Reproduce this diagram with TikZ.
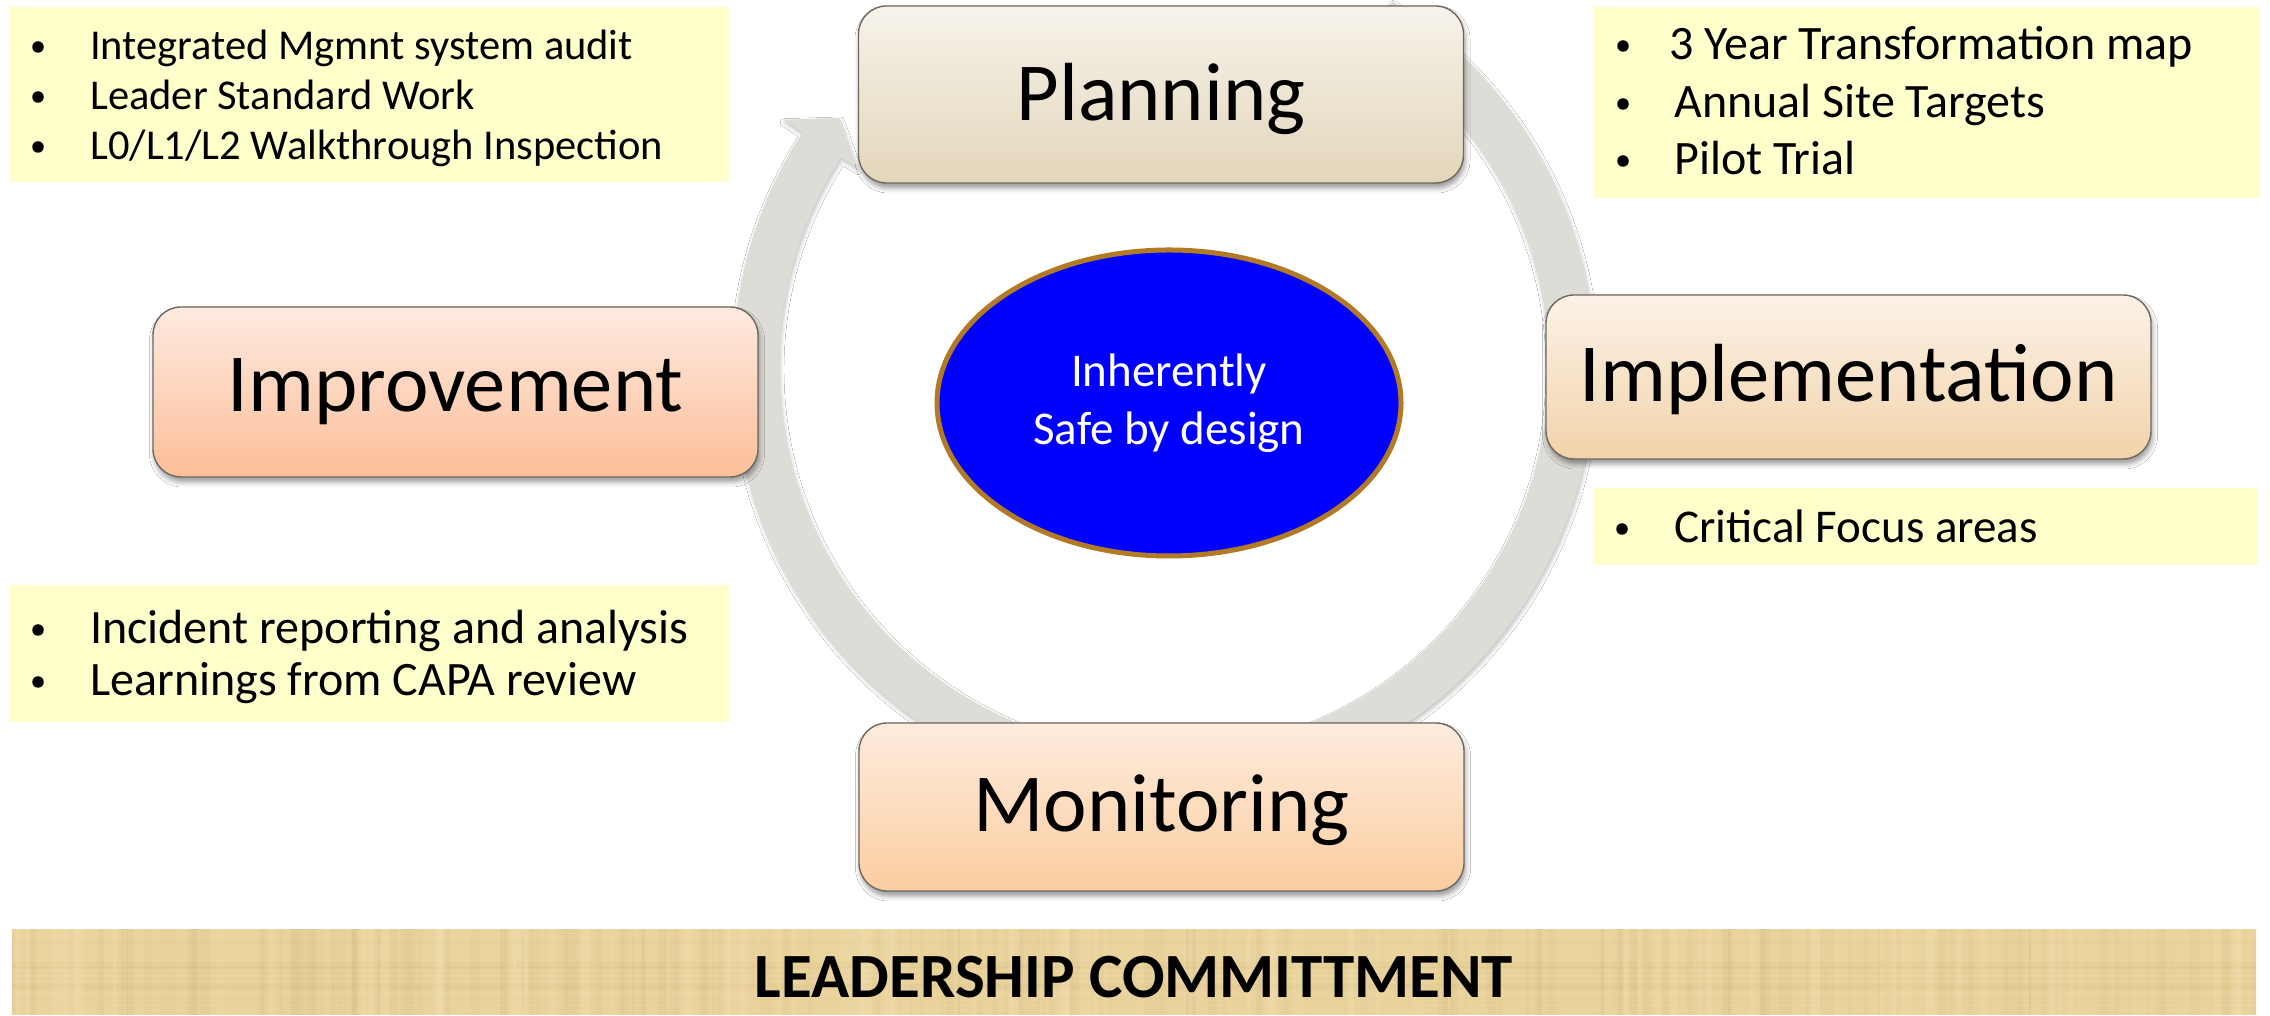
\documentclass[tikz,border=0pt]{standalone}
\usepackage{fontspec}
\setmainfont{Carlito}
\usetikzlibrary{shadows.blur,shapes.geometric}

\definecolor{ringgray}{RGB}{222,220,214}
\definecolor{boxline}{RGB}{112,104,96}
\definecolor{noteyellow}{RGB}{255,255,204}
\definecolor{hubblue}{RGB}{0,0,255}
\definecolor{hubrim}{RGB}{178,122,36}
\definecolor{planTop}{RGB}{247,243,235}
\definecolor{planBot}{RGB}{227,214,186}
\definecolor{implTop}{RGB}{252,242,231}
\definecolor{implBot}{RGB}{242,211,170}
\definecolor{imprTop}{RGB}{255,234,224}
\definecolor{imprBot}{RGB}{252,190,152}
\definecolor{moniTop}{RGB}{254,236,222}
\definecolor{moniBot}{RGB}{251,205,160}
\definecolor{papyrus}{RGB}{234,212,158}
\definecolor{papyrusdark}{RGB}{196,164,104}
\definecolor{papyruslight}{RGB}{246,230,186}

\begin{document}
\begin{tikzpicture}[x=1pt,y=1pt,
  stage/.style={rounded corners=28pt, draw=boxline, line width=1.4pt,
    minimum width=605pt, inner sep=0pt,
    blur shadow={shadow xshift=1.5pt, shadow yshift=-5pt,
      shadow blur radius=5pt, shadow opacity=40}},
  stagelabel/.style={inner sep=0pt, font=\fontsize{82.5}{99}\selectfont},
  notebox/.style={fill=noteyellow, inner sep=0pt, anchor=north west},
  bulletmark/.style={circle, fill=black, inner sep=0pt, minimum size=11.5pt},
  itemtext/.style={anchor=base west, inner sep=0pt},
]
% canvas
\useasboundingbox (0,0) rectangle (2270,1016);
\fill[white] (0,0) rectangle (2270,1016);

% cycle arrow around the hub
\coordinate (cyc) at (1164,649);
\fill[ringgray, blur shadow={shadow xshift=1pt, shadow yshift=-3pt,
      shadow blur radius=4pt, shadow opacity=25}]
  ([shift={(cyc)}]58:431) arc[start angle=58, end angle=-213, radius=431pt]
  -- ([shift={(cyc)}]-213:454)
  -- ([shift={(cyc)}]-217.5:409)
  -- ([shift={(cyc)}]-213:366)
  -- ([shift={(cyc)}]-213:385)
  arc[start angle=-213, end angle=58, radius=385pt] -- cycle;

% stage boxes
\node[stage, minimum height=177pt, top color=planTop, bottom color=planBot]
  (plan) at (1161,921.5) {};
\node[stage, minimum height=164pt, top color=implTop, bottom color=implBot]
  (impl) at (1848.5,639) {};
\node[stage, minimum height=170pt, top color=imprTop, bottom color=imprBot]
  (impr) at (455.5,624) {};
\node[stage, minimum height=168pt, top color=moniTop, bottom color=moniBot]
  (moni) at (1161.5,209) {};
\node[stagelabel] (planlbl) at ([yshift=-4pt]plan.center) {Planning};
\node[stagelabel] (impllbl) at ([yshift=-3pt]impl.center) {Implementation};
\node[stagelabel] (imprlbl) at (impr.center) {Improvement};
\node[stagelabel] (monilbl) at ([yshift=-3pt]moni.center) {Monitoring};

% hub
\node[ellipse, fill=hubblue, draw=hubrim, line width=5pt,
  minimum width=464pt, minimum height=306pt, inner sep=0pt,
  text=white, align=center, font=\fontsize{47}{58}\selectfont]
  (hub) at (1169,613) {Inherently\\Safe by design};

% note boxes
\node[notebox, minimum width=720.5pt, minimum height=175pt] (notetl) at (8.5,1009) {};
\node[notebox, minimum width=667pt, minimum height=191pt] (notetr) at (1593,1009) {};
\node[notebox, minimum width=665pt, minimum height=77pt] (notecf) at (1593,528) {};
\node[notebox, minimum width=720pt, minimum height=137pt] (notebl) at (9,431) {};

% top-left notes
\begin{scope}[every node/.append style={font=\fontsize{42.5}{48}\selectfont}]
  \node[bulletmark] (tlb1) at (38,969) {};
  \node[bulletmark] (tlb2) at (38,919) {};
  \node[bulletmark] (tlb3) at (38,869) {};
  \node[itemtext] (tlt1) at (90,956) {Integrated Mgmnt system audit};
  \node[itemtext] (tlt2) at (90,906) {Leader Standard Work};
  \node[itemtext] (tlt3) at (90,856) {L0/L1/L2 Walkthrough Inspection};
\end{scope}

% top-right notes
\begin{scope}[every node/.append style={font=\fontsize{48}{56}\selectfont}]
  \node[bulletmark] (trb1) at (1623,970) {};
  \node[bulletmark] (trb2) at (1623,912) {};
  \node[bulletmark] (trb3) at (1623,855) {};
  \node[itemtext] (trt1) at (1669,956) {3 Year Transformation map};
  \node[itemtext] (trt2) at (1674,898) {Annual Site Targets};
  \node[itemtext] (trt3) at (1674,841) {Pilot Trial};
\end{scope}

% implementation note
\begin{scope}[every node/.append style={font=\fontsize{47}{54}\selectfont}]
  \node[bulletmark] (cfb1) at (1622,487) {};
  \node[itemtext] (cft1) at (1674,473) {Critical Focus areas};
\end{scope}

% bottom-left notes
\begin{scope}[every node/.append style={font=\fontsize{48}{54}\selectfont}]
  \node[bulletmark] (blb1) at (38,386) {};
  \node[bulletmark] (blb2) at (38,334) {};
  \node[itemtext] (blt1) at (90,372) {Incident reporting and analysis};
  \node[itemtext] (blt2) at (90,320) {Learnings from CAPA review};
\end{scope}

% foundation banner with a papyrus-like texture
\node[fill=papyrus, inner sep=0pt, minimum width=2244pt, minimum height=86pt,
  anchor=south west] (banner) at (12,1) {};
\begin{scope}
  \clip (banner.south west) rectangle (banner.north east);
  \pgfmathsetseed{7}
  \foreach \i in {1,...,200} {
    \pgfmathsetmacro{\xx}{12+2244*rnd}
    \pgfmathsetmacro{\ww}{2+8*rnd}
    \pgfmathsetmacro{\op}{0.03+0.07*rnd}
    \fill[papyrusdark, opacity=\op] (\xx,1) rectangle ++(\ww,86);
  }
  \foreach \i in {1,...,14} {
    \pgfmathsetmacro{\yy}{1+80*rnd}
    \pgfmathsetmacro{\op}{0.04+0.06*rnd}
    \fill[papyrusdark, opacity=\op] (12,\yy) rectangle ++(2244,3);
  }
  \foreach \i in {1,...,100} {
    \pgfmathsetmacro{\xx}{12+2244*rnd}
    \pgfmathsetmacro{\ww}{3+8*rnd}
    \pgfmathsetmacro{\op}{0.1+0.15*rnd}
    \fill[papyruslight, opacity=\op] (\xx,1) rectangle ++(\ww,86);
  }
\end{scope}
\node[font=\fontsize{63}{70}\selectfont\bfseries, inner sep=0pt]
  (lead) at (1134,39) {LEADERSHIP COMMITTMENT};
\end{tikzpicture}
\end{document}
